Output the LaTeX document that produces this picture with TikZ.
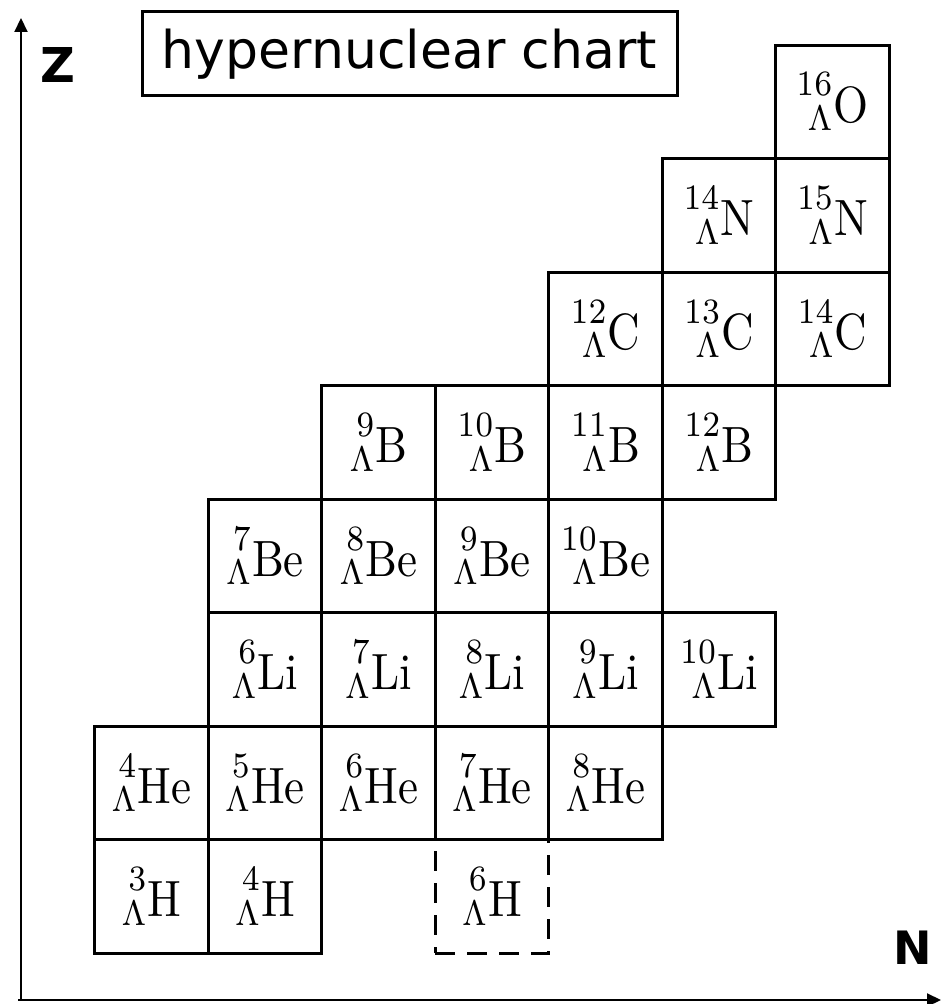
\documentclass[tikz,border=0pt]{standalone}
\usepackage{amsmath}
\usepackage{graphicx}
\usepackage{fontspec}
\newfontfamily\titlefont{DejaVu Sans}
\usepackage{tikz}
\usetikzlibrary{arrows.meta, positioning}

% mass number over Lambda, both set flush right, then the element
\newcommand{\hypnuc}[2]{\scalebox{4.5}[5.1]{%
    \setbox0=\hbox{$\scriptstyle #1$}\setbox2=\hbox{$\scriptstyle\Lambda$}%
    \ifdim\wd0>\wd2 \dimen0=\wd0 \else \dimen0=\wd2 \fi
    \rlap{\hbox to \dimen0{\hss\raise5.1pt\box0}}%
    \hbox to \dimen0{\hss\lower1.76pt\box2}\kern0.3pt\relax #2}}

\begin{document}
\begin{tikzpicture}[
        x=1pt, y=1pt,
        cell/.style={draw, line width=3pt, minimum width=113.5pt, minimum height=113.5pt,
            inner sep=0pt},
        axis/.style={line width=2pt},
        >={Triangle[length=14pt, width=13pt]}
    ]
    \useasboundingbox (0,0) rectangle (942,1004);
    
    % nuclide cells: column/row/mass/element
    \foreach \c/\r/\a/\el in {0/0/3/H, 1/0/4/H,
            0/1/4/He, 1/1/5/He, 2/1/6/He, 3/1/7/He, 4/1/8/He,
            1/2/6/Li, 2/2/7/Li, 3/2/8/Li, 4/2/9/Li, 5/2/10/Li,
            1/3/7/Be, 2/3/8/Be, 3/3/9/Be, 4/3/10/Be,
            2/4/9/B, 3/4/10/B, 4/4/11/B, 5/4/12/B,
            4/5/12/C, 5/5/13/C, 6/5/14/C,
            5/6/14/N, 6/6/15/N,
            6/7/16/O}
        \node[cell] (\el\a) at ({151.5+113.5*\c},{107.5+113.5*\r}) {\hypnuc{\a}{\el}};
    
    \node[cell, dash pattern=on 20pt off 12pt] (H6) at ({151.5+113.5*3},107.5) {\hypnuc{6}{H}};
    
    % axes
    \coordinate (orig) at (21,4);
    \coordinate (zend) at (21,986);
    \coordinate (nstart) at (18,4);
    \coordinate (nend) at (941,4);
    \draw[axis, ->] (orig) -- (zend);
    \draw[axis, ->] (nstart) -- (nend);
    
    \node[font=\titlefont\bfseries\fontsize{48}{50}\selectfont] (zlabel) at (58,939) {Z};
    \node[font=\titlefont\bfseries\fontsize{46}{48}\selectfont] (nlabel) at (913,56) {N};
    
    \node[draw, line width=3pt, minimum width=535pt, minimum height=84pt,
        font=\titlefont\fontsize{52}{54}\selectfont] (title) at (409.5,950) {hypernuclear chart};
    
\end{tikzpicture}
\end{document}
